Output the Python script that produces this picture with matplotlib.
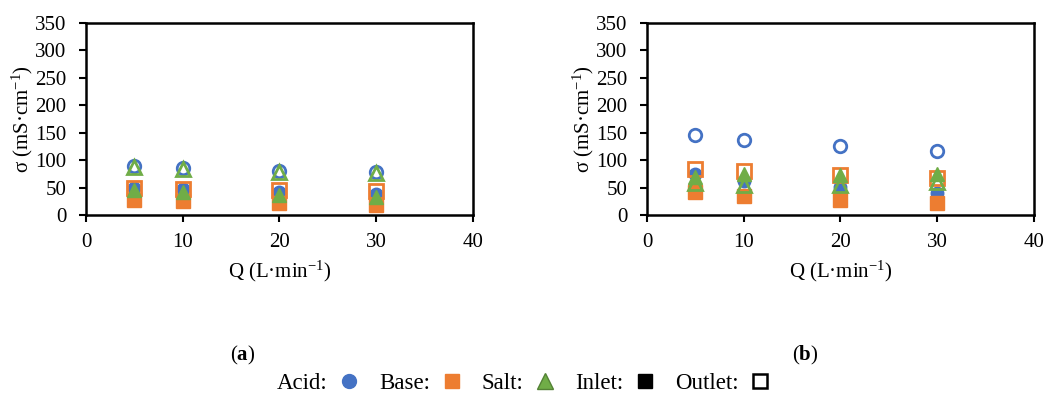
import matplotlib
matplotlib.use('Agg')
import matplotlib.pyplot as plt
from matplotlib.lines import Line2D

plt.rcParams['font.family'] = ['Liberation Serif', 'DejaVu Serif']
plt.rcParams['mathtext.fontset'] = 'custom'
plt.rcParams['mathtext.rm'] = 'Liberation Serif'
plt.rcParams['mathtext.it'] = 'Liberation Serif:italic'
plt.rcParams['mathtext.bf'] = 'Liberation Serif:bold'

# flow rates (L/min)
flow = [5, 10, 20, 30]

# panel (a)
a_acid_in = [50, 47, 42, 38]
a_acid_out = [90, 86, 81, 78]
a_base_in = [27, 25, 22, 19]
a_base_out = [50, 48, 45, 43]
a_salt_in = [45, 42, 37, 33]
a_salt_out = [87, 84, 79, 76]

# panel (b)
b_acid_in = [74, 62, 51, 40]
b_acid_out = [145, 137, 125, 117]
b_base_in = [41, 35, 27, 21]
b_base_out = [84, 80, 73, 68]
b_salt_in = [70, 74, 72, 75]
b_salt_out = [58, 55, 55, 60]

x_ticks = [0, 10, 20, 30, 40]
y_ticks = [0, 50, 100, 150, 200, 250, 300, 350]

BLUE = '#4472C4'
ORANGE = '#ED7D31'
GREEN = '#70AD47'


def draw_panel(ax, acid_in, acid_out, base_in, base_out, salt_in, salt_out):
    ax.plot(flow, acid_in, 'o', ms=9, color=BLUE, mec=BLUE)
    ax.plot(flow, acid_out, 'o', ms=9, mfc='none', mec=BLUE, mew=2)
    ax.plot(flow, base_in, 's', ms=9.5, color=ORANGE, mec=ORANGE)
    ax.plot(flow, base_out, 's', ms=9.5, mfc='none', mec=ORANGE, mew=2)
    ax.plot(flow, salt_in, '^', ms=10, color=GREEN, mec=GREEN)
    ax.plot(flow, salt_out, '^', ms=10, mfc='none', mec=GREEN, mew=2)

    ax.set_xlim(0, 40)
    ax.set_ylim(0, 350)
    ax.set_xticks(x_ticks)
    ax.set_yticks(y_ticks)
    ax.tick_params(direction='out', length=5, width=1.5, labelsize=15)
    ax.tick_params(axis='y', pad=9)
    ax.tick_params(axis='x', pad=8)
    for s in ax.spines.values():
        s.set_linewidth(1.8)
    ax.set_xlabel('Q (L·min$^{\u2212\\mathrm{1}}$)', fontsize=15, labelpad=5)
    ax.set_ylabel('σ (mS·cm$^{\u2212\\mathrm{1}}$)', fontsize=15, labelpad=0)


fig = plt.figure(figsize=(10.46, 3.99), dpi=100)
ax1 = fig.add_axes([0.0822, 0.4612, 0.370, 0.4812])
ax2 = fig.add_axes([0.6185, 0.4612, 0.370, 0.4812])

draw_panel(ax1, a_acid_in, a_acid_out, a_base_in, a_base_out, a_salt_in, a_salt_out)
draw_panel(ax2, b_acid_in, b_acid_out, b_base_in, b_base_out, b_salt_in, b_salt_out)

fig.text(0.232, 0.11, r'($\mathbf{a}$)', fontsize=15, ha='center', va='center')
fig.text(0.770, 0.11, r'($\mathbf{b}$)', fontsize=15, ha='center', va='center')

# shared key under both panels
handles = [
    Line2D([], [], ls='none', marker='o', ms=10, color=BLUE),
    Line2D([], [], ls='none', marker='s', ms=10, color=ORANGE),
    Line2D([], [], ls='none', marker='^', ms=11, mfc=GREEN, mec='#548235', mew=1),
    Line2D([], [], ls='none', marker='s', ms=9.5, color='black'),
    Line2D([], [], ls='none', marker='s', ms=9.5, mfc='white', mec='black', mew=1.8),
]
labels = ['Acid:', 'Base:', 'Salt:', 'Inlet:', 'Outlet:']
fig.legend(handles, labels, loc='center', bbox_to_anchor=(0.501, 0.038), ncol=5,
           frameon=False, markerfirst=False, fontsize=16.5, handlelength=1.0,
           handletextpad=0.45, columnspacing=0.8, borderpad=0)

fig.savefig('out.png', dpi=100)
